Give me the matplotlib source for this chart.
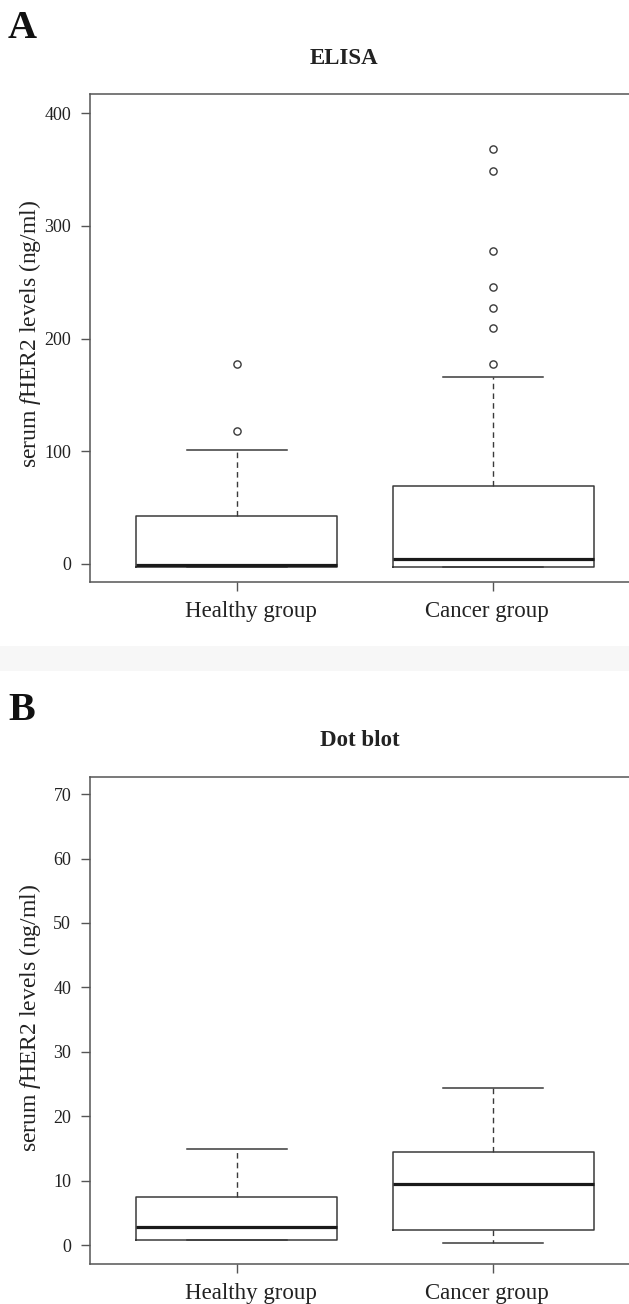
import matplotlib
matplotlib.use("Agg")
import matplotlib.pyplot as plt
from matplotlib.patches import Rectangle
from matplotlib.transforms import ScaledTranslation

plt.rcParams['font.family'] = ['Liberation Serif', 'DejaVu Serif']
plt.rcParams['mathtext.fontset'] = 'custom'
plt.rcParams['mathtext.rm'] = 'Liberation Serif'
plt.rcParams['mathtext.it'] = 'Liberation Serif:italic'

# ---- data ----
groups = ['Healthy group', 'Cancer group']

elisa_q1 = [-3.0, -2.7]
elisa_med = [-1.0, 4.4]
elisa_q3 = [42.6, 69.0]
elisa_whislo = [-3.0, -2.7]
elisa_whishi = [100.8, 166.0]
elisa_fliers_healthy = [177.7, 117.7]
elisa_fliers_cancer = [368.3, 348.8, 277.6, 246.0, 226.8, 209.3, 177.1]
elisa_ticks = [0, 100, 200, 300, 400]

dot_q1 = [0.8, 2.3]
dot_med = [2.85, 9.4]
dot_q3 = [7.4, 14.4]
dot_whislo = [0.8, 0.36]
dot_whishi = [14.9, 24.4]
dot_ticks = [0, 10, 20, 30, 40, 50, 60, 70]

W, H = 629, 1304
fig = plt.figure(figsize=(W / 100, H / 100), dpi=100)

line_col = '#3a3a3a'
text_col = '#222222'


def px_axes(left, top, right, bottom):
    return [left / W, 1 - bottom / H, (right - left) / W, (bottom - top) / H]


def make_stats(q1, med, q3, lo, hi, fliers):
    out = []
    for i in range(len(q1)):
        out.append(dict(q1=q1[i], med=med[i], q3=q3[i], whislo=lo[i],
                        whishi=hi[i], fliers=fliers[i], label=groups[i]))
    return out


def draw(ax, stats, ylim, ticks):
    ax.bxp(stats, positions=[1, 2], widths=0.785, showfliers=True,
           boxprops=dict(color=line_col, linewidth=1.1),
           medianprops=dict(color='#1a1a1a', linewidth=2.3, solid_capstyle='butt'),
           whiskerprops=dict(color=line_col, linewidth=1.0, linestyle=(0, (4, 3))),
           capprops=dict(color=line_col, linewidth=1.1),
           capwidths=0.39,
           flierprops=dict(marker='o', markersize=5.2, markerfacecolor='none',
                           markeredgecolor=line_col, markeredgewidth=1.0, linestyle='none'))
    ax.set_xlim(0.426, 2.574)
    ax.set_ylim(*ylim)
    ax.set_yticks(ticks)
    ax.set_yticklabels([str(t) for t in ticks])
    ax.set_xticks([1, 2])
    ax.set_xticklabels(groups)
    for s in ax.spines.values():
        s.set_color('#555555')
        s.set_linewidth(1.1)
    ax.tick_params(axis='y', direction='out', length=6.5, width=1.0, color='#555555',
                   labelsize=13, labelcolor=text_col, pad=7)
    ax.tick_params(axis='x', direction='out', length=6.5, width=1.0, color='#555555',
                   labelsize=16.5, labelcolor=text_col, pad=7)
    # the group labels sit slightly off their ticks in the original
    for lab, dx in zip(ax.get_xticklabels(), [14, -6]):
        lab.set_transform(lab.get_transform() + ScaledTranslation(dx / 100, 0, fig.dpi_scale_trans))


# Panel A
axA = fig.add_axes(px_axes(90, 94, 640, 582))
draw(axA, make_stats(elisa_q1, elisa_med, elisa_q3, elisa_whislo, elisa_whishi,
                     [elisa_fliers_healthy, elisa_fliers_cancer]),
     (-16.0, 416.9), elisa_ticks)

# Panel B
axB = fig.add_axes(px_axes(90, 777, 640, 1264))
draw(axB, make_stats(dot_q1, dot_med, dot_q3, dot_whislo, dot_whishi, [[], []]),
     (-2.95, 72.67), dot_ticks)

# separator band
fig.patches.append(Rectangle((0, 1 - 671 / H), 1, 25 / H, transform=fig.transFigure,
                             facecolor='#f7f7f7', edgecolor='none', zorder=-1))

ylabel = 'serum $f$HER2 levels (ng/ml)'
fig.text(30 / W, 1 - 334 / H, ylabel, rotation=90, ha='center', va='center',
         fontsize=17, color=text_col)
fig.text(30 / W, 1 - 1018 / H, ylabel, rotation=90, ha='center', va='center',
         fontsize=17, color=text_col)

fig.text(344 / W, 1 - 58 / H, 'ELISA', ha='center', va='center', fontsize=16.5,
         fontweight='bold', color=text_col)
fig.text(360 / W, 1 - 740 / H, 'Dot blot', ha='center', va='center', fontsize=16.5,
         fontweight='bold', color=text_col)

fig.text(8 / W, 1 - 28 / H, 'A', ha='left', va='center', fontsize=29,
         fontweight='bold', color='#111111')
fig.text(8 / W, 1 - 710 / H, 'B', ha='left', va='center', fontsize=29,
         fontweight='bold', color='#111111')

fig.savefig('out.png', dpi=100)
